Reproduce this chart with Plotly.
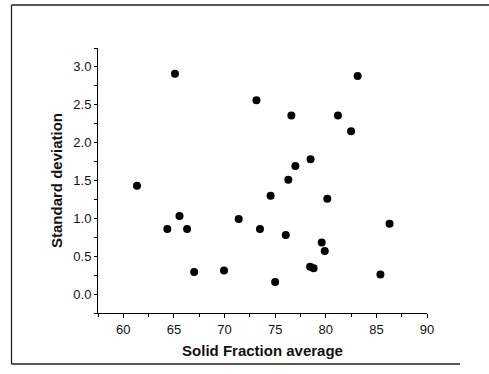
import plotly.graph_objects as go

solid_fraction = [61.35, 65.1, 64.35, 65.55, 66.3, 67.0, 69.95, 71.4, 73.15, 73.5,
                  74.55, 75.0, 76.05, 76.3, 76.6, 77.0, 78.5, 78.45, 78.8, 79.6,
                  79.9, 80.15, 81.2, 82.5, 83.15, 85.4, 86.3]
std_dev = [1.43, 2.91, 0.86, 1.03, 0.86, 0.29, 0.31, 0.99, 2.56, 0.86,
           1.30, 0.16, 0.78, 1.51, 2.36, 1.69, 1.78, 0.36, 0.34, 0.68,
           0.57, 1.26, 2.36, 2.15, 2.88, 0.26, 0.93]

x_ticks = [60, 65, 70, 75, 80, 85, 90]
y_ticks = [0.0, 0.5, 1.0, 1.5, 2.0, 2.5, 3.0]
y_labels = ["0.0", "0.5", "1.0", "1.5", "2.0", "2.5", "3.0"]

W, H = 489, 374
ML, MR, MT, MB = 98, 62, 48, 61
PW, PH = W - ML - MR, H - MT - MB

def px_x(p):
    return (p - ML) / PW

def px_y(p):
    return (H - MB - p) / PH

fig = go.Figure()
fig.add_trace(go.Scatter(
    x=solid_fraction, y=std_dev, mode="markers",
    marker=dict(size=8, color="black"),
    showlegend=False,
))

axis_font = dict(family="Liberation Sans, Arial, sans-serif", size=13, color="#111")
title_font = dict(family="Liberation Sans, Arial, sans-serif", size=15, color="#111")

fig.update_xaxes(
    range=[57.5, 90], tickvals=x_ticks, ticks="outside", ticklen=4, tickwidth=1,
    tickcolor="black", showline=True, linecolor="black", linewidth=1,
    showgrid=False, zeroline=False, tickfont=axis_font,
    minor=dict(dtick=2.5, tick0=57.5, ticks="outside", ticklen=3, tickcolor="black"),
    title=dict(text="<b>Solid Fraction average</b>", font=title_font, standoff=9),
)
fig.update_yaxes(
    range=[-0.25, 3.25], tickvals=y_ticks, ticktext=y_labels, ticks="outside",
    ticklen=3, tickwidth=1, tickcolor="black", showline=True, linecolor="black",
    linewidth=1, showgrid=False, zeroline=False, tickfont=axis_font,
    minor=dict(dtick=0.25, tick0=0, ticks="outside", ticklen=3, tickcolor="black"),
    title=dict(text="<b>Standard deviation</b>", font=title_font, standoff=7),
)

border = dict(color="#222", width=1.3)
shapes = [
    dict(type="line", xref="paper", yref="paper", x0=px_x(11.5), x1=px_x(489), y0=px_y(5), y1=px_y(5), line=border),
    dict(type="line", xref="paper", yref="paper", x0=px_x(11.5), x1=px_x(11.5), y0=px_y(5), y1=px_y(364), line=border),
    dict(type="line", xref="paper", yref="paper", x0=px_x(11.5), x1=px_x(460), y0=px_y(364), y1=px_y(364), line=border),
]

fig.update_layout(
    width=W, height=H, margin=dict(l=ML, r=MR, t=MT, b=MB),
    plot_bgcolor="white", paper_bgcolor="white", shapes=shapes,
)

fig.write_html("out.html")
